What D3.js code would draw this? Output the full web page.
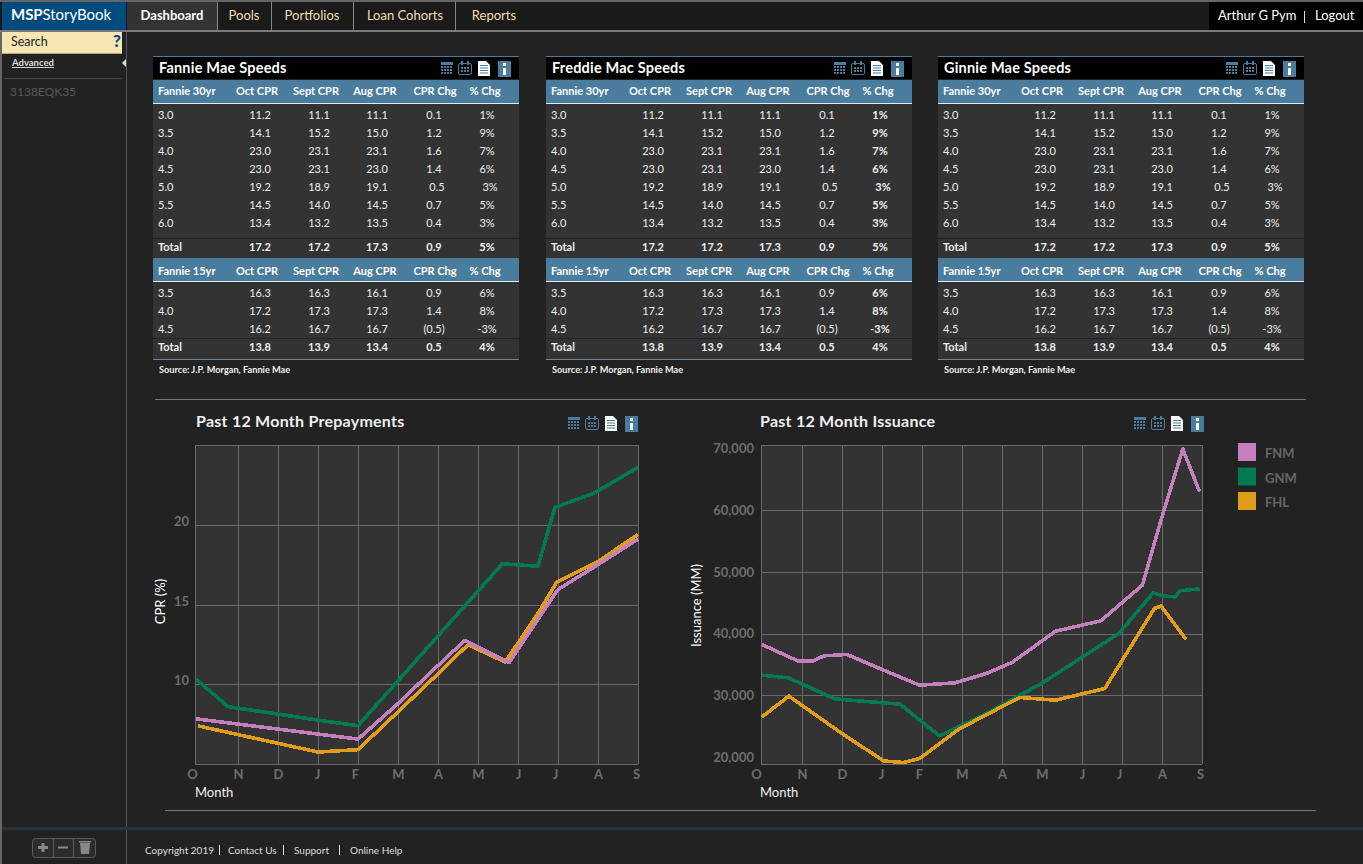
<!DOCTYPE html>
<html>
<head>
<meta charset="utf-8">
<title>MSPStoryBook</title>
<script src="https://cdnjs.cloudflare.com/ajax/libs/d3/7.8.5/d3.min.js"></script>
<style>
html, body { margin: 0; padding: 0; background: #222; overflow: hidden; }
svg { display: block; }
text { font-family: Lato, "Open Sans", sans-serif; }
</style>
</head>
<body>
<script>
// table data
var columns30 = ["Fannie 30yr", "Oct CPR", "Sept CPR", "Aug CPR", "CPR Chg", "% Chg"];
var columns15 = ["Fannie 15yr", "Oct CPR", "Sept CPR", "Aug CPR", "CPR Chg", "% Chg"];
var rows30 = [
  ["3.0", "11.2", "11.1", "11.1", "0.1", "1%"],
  ["3.5", "14.1", "15.2", "15.0", "1.2", "9%"],
  ["4.0", "23.0", "23.1", "23.1", "1.6", "7%"],
  ["4.5", "23.0", "23.1", "23.0", "1.4", "6%"],
  ["5.0", "19.2", "18.9", "19.1", "0.5", "3%"],
  ["5.5", "14.5", "14.0", "14.5", "0.7", "5%"],
  ["6.0", "13.4", "13.2", "13.5", "0.4", "3%"]
];
var total30 = ["Total", "17.2", "17.2", "17.3", "0.9", "5%"];
var rows15 = [
  ["3.5", "16.3", "16.3", "16.1", "0.9", "6%"],
  ["4.0", "17.2", "17.3", "17.3", "1.4", "8%"],
  ["4.5", "16.2", "16.7", "16.7", "(0.5)", "-3%"]
];
var total15 = ["Total", "13.8", "13.9", "13.4", "0.5", "4%"];
var panelTitles = ["Fannie Mae Speeds", "Freddie Mac Speeds", "Ginnie Mae Speeds"];
var sourceNote = "Source: J.P. Morgan, Fannie Mae";

// chart data, x is months since October
var monthLabels = ["O", "N", "D", "J", "F", "M", "A", "M", "J", "J", "A", "S"];
var cprTicks = [10, 15, 20];
var issuanceTicks = [20000, 30000, 40000, 50000, 60000, 70000];
var issuanceGrid = [30000, 40000, 50000, 60000];

var cprGnmX = [0.03, 0.77, 3, 4, 6.79, 7.61, 8.5, 8.92, 9.92, 11];
var cprGnmY = [10.3, 8.6, 7.75, 7.4, 15.25, 17.55, 17.4, 21.08, 22.0, 23.6];
var cprFhlX = [0.07, 3, 4, 5, 5.96, 6.75, 7.68, 8.54, 8.97, 9.45, 10, 11];
var cprFhlY = [7.39, 5.75, 5.9, 8.27, 10.56, 12.48, 11.39, 14.6, 16.4, 17.02, 17.69, 19.4];
var cprFnmX = [0.03, 4, 5, 5.96, 6.67, 7.78, 9, 10, 11];
var cprFnmY = [7.83, 6.56, 8.79, 11.08, 12.75, 11.37, 15.94, 17.5, 19.1];

var issFnmX = [0.02, 0.91, 1.26, 1.55, 2.12, 3.04, 3.94, 4.82, 5.61, 6.25, 7.34, 8.47, 9.51, 10, 10.52, 10.94];
var issFnmY = [38270, 35560, 35560, 36420, 36650, 34100, 31670, 32040, 33560, 35350, 40420, 42090, 47880, 58950, 69920, 63000];
var issGnmX = [0.02, 0.67, 1.82, 3.04, 3.45, 4.44, 5.61, 6.99, 8.92, 9.78, 10.03, 10.33, 10.45, 10.94];
var issGnmY = [33290, 32860, 29450, 28800, 28590, 23450, 27080, 31950, 40050, 46630, 46100, 45980, 46960, 47280];
var issFhlX = [0.02, 0.68, 2, 3.04, 3.53, 3.94, 4.92, 6.44, 7.34, 8.57, 9.81, 9.98, 10.6];
var issFhlY = [26530, 29890, 23840, 19400, 19140, 19790, 24540, 29680, 29240, 31130, 44100, 44480, 39080];

var legendNames = ["FNM", "GNM", "FHL"];
var pink = "#c47fbe", green = "#007a50", orange = "#e09c1a";
var blue = "#4a7c9e", gridGrey = "#6a6a6a";

var svg = d3.select("body").append("svg").attr("width", 1363).attr("height", 864);

function rect(parent, x, y, w, h, fill) {
  return parent.append("rect").attr("x", x).attr("y", y).attr("width", w).attr("height", h).attr("fill", fill);
}
function label(parent, x, y, str, size, fill, weight, anchor) {
  return parent.append("text").attr("x", x).attr("y", y).text(str)
    .attr("font-size", size).attr("fill", fill)
    .attr("font-weight", weight || 400)
    .attr("text-anchor", anchor || "start");
}

// four little toolbar icons, x is the left edge of the group
function icons(parent, x, y) {
  var g = parent.append("g").attr("transform", "translate(" + x + "," + y + ")");
  // table
  rect(g, 0, 1, 12, 3, blue);
  d3.range(3).forEach(function(r) {
    d3.range(4).forEach(function(c) {
      rect(g, c * 3, 5 + r * 3, 2, 2, blue);
    });
  });
  // calendar
  g.append("rect").attr("x", 17.5).attr("y", 2.5).attr("width", 13).attr("height", 11)
    .attr("rx", 1.5).attr("fill", "none").attr("stroke", blue);
  rect(g, 20, 0, 2, 4, blue);
  rect(g, 26, 0, 2, 4, blue);
  d3.range(2).forEach(function(r) {
    d3.range(3).forEach(function(c) {
      rect(g, 20 + c * 3, 6 + r * 3, 2, 2, blue);
    });
  });
  // page
  g.append("path").attr("d", "M37,0H45L49,4V15H37Z").attr("fill", "#fff");
  d3.range(4).forEach(function(r) {
    rect(g, 39, 4 + r * 2.5, 8, 1, blue);
  });
  // info
  rect(g, 57, 0, 13, 16, blue);
  rect(g, 62, 2, 3, 3, "#fff");
  rect(g, 62, 7, 3, 7, "#fff");
}

// page frame
rect(svg, 0, 0, 1363, 864, "#222");
rect(svg, 0, 2, 1363, 28, "#1a1a1a");
rect(svg, 0, 0, 1363, 2, "#666");
rect(svg, 0, 30, 1363, 2, "#7a7a7a");
rect(svg, 2, 2, 124, 28, "#004b7d");
rect(svg, 127, 2, 90, 28, "#333");
rect(svg, 1209, 2, 154, 28, "#000");
[217, 271, 353, 455].forEach(function(x) { rect(svg, x, 2, 1, 28, "#888"); });
var logo = label(svg, 11, 20, "", 15, "#fff");
logo.append("tspan").attr("font-weight", 700).text("MSP");
logo.append("tspan").text("StoryBook");
logo.attr("textLength", 100);
label(svg, 172, 20, "Dashboard", 13, "#fff", 700, "middle");
label(svg, 244, 20, "Pools", 13, "#f2dfae", 400, "middle");
label(svg, 312, 20, "Portfolios", 13, "#f2dfae", 400, "middle");
label(svg, 405, 20, "Loan Cohorts", 13, "#f2dfae", 400, "middle");
label(svg, 494, 20, "Reports", 13, "#f2dfae", 400, "middle");
label(svg, 1218, 20, "Arthur G Pym", 13, "#fff");
rect(svg, 1304, 11, 1, 12, "#ddd");
label(svg, 1315, 20, "Logout", 13, "#fff");

// sidebar
rect(svg, 0, 32, 2, 832, "#666");
rect(svg, 126, 32, 1, 832, "#555");
rect(svg, 2, 32, 120, 22, "#f5e6b3");
rect(svg, 2, 53, 120, 1, "#b5a77c");
label(svg, 11, 46, "Search", 12.5, "#222");
label(svg, 117, 47, "?", 17, "#004b7d", 900, "middle");
label(svg, 12, 66, "Advanced", 9.5, "#ddd", 700).attr("text-decoration", "underline");
svg.append("path").attr("d", "M126,59V67L122,63Z").attr("fill", "#ddd");
rect(svg, 4, 78, 118, 1, "#444");
label(svg, 10, 95.5, "3138EQK35", 12, "#5a5a5a");

// footer
rect(svg, 2, 827, 1361, 3, "#2a323a");
label(svg, 145, 854, "Copyright 2019", 10, "#ddd");
rect(svg, 219, 845, 1, 10, "#ddd");
label(svg, 228, 854, "Contact Us", 10, "#ddd");
rect(svg, 283, 845, 1, 10, "#ddd");
label(svg, 294, 854, "Support", 10, "#ddd");
rect(svg, 339, 845, 1, 10, "#ddd");
label(svg, 350, 854, "Online Help", 10, "#ddd");
svg.append("rect").attr("x", 32.5).attr("y", 838.5).attr("width", 63).attr("height", 19).attr("rx", 3)
  .attr("fill", "#2c2c2c").attr("stroke", "#5a5a5a");
rect(svg, 53, 839, 1, 18, "#5a5a5a");
rect(svg, 73, 839, 1, 18, "#5a5a5a");
rect(svg, 38, 846, 10, 3, "#888");
rect(svg, 41.5, 843, 3, 9, "#888");
rect(svg, 58, 846.5, 10, 2, "#888");
svg.append("path").attr("d", "M80,843H90L89,854H81Z").attr("fill", "#888");
rect(svg, 79, 841, 12, 1.5, "#888");

// separator lines
rect(svg, 155, 399, 1151, 1, "#777");
rect(svg, 165, 810, 1151, 1, "#777");

// speed tables
var colCenter = [0, 104, 163, 222, 282, 332];
var valueCenter = [0, 107, 166, 224, 281, 334];

function tableRow(g, y, row, opts) {
  row.forEach(function(d, i) {
    var bold = opts.bold || (opts.boldPct && i === 5);
    var nudge = opts.nudge && i >= 4 ? 3 : 0;
    if (i === 0) {
      label(g, 5, y, d, 11, "#eee", bold ? 700 : 400);
    } else {
      label(g, valueCenter[i] + nudge, y, d, 11, "#eee", bold ? 700 : 400, "middle");
    }
  });
}
function tableHeader(g, y, textY, cols) {
  rect(g, 0, y, 366, 23, blue);
  rect(g, 0, y + 23, 366, 1, "#dfe8ee");
  cols.forEach(function(d, i) {
    if (i === 0) {
      label(g, 5, textY, d, 11, "#fff", 700);
    } else {
      label(g, colCenter[i], textY, d, 11, "#fff", 700, "middle");
    }
  });
}

panelTitles.forEach(function(title, p) {
  var g = svg.append("g").attr("transform", "translate(" + [153, 546, 938][p] + ",56)");
  var boldPct = p === 1;
  rect(g, 0, 0, 366, 1, blue);
  rect(g, 0, 1, 366, 22, "#000");
  label(g, 6, 17, title, 14.5, "#fff", 700).attr("letter-spacing", 0.2);
  icons(g, 288, 5);
  rect(g, 0, 24, 366, 279, "#333");
  tableHeader(g, 24, 39, columns30);
  rows30.forEach(function(r, i) {
    tableRow(g, 63 + i * 18, r, { boldPct: boldPct, nudge: r[0] === "5.0" });
  });
  rect(g, 0, 182, 366, 1, "#222");
  tableRow(g, 195, total30, { bold: true });
  rect(g, 0, 202, 366, 1, "#222");
  tableHeader(g, 202, 219, columns15);
  rows15.forEach(function(r, i) {
    tableRow(g, 241 + i * 18, r, { boldPct: boldPct });
  });
  rect(g, 0, 282, 366, 1, "#222");
  tableRow(g, 295, total15, { bold: true });
  rect(g, 0, 303, 366, 1, "#6f8694");
  label(g, 6, 317, sourceNote, 9.2, "#eee", 700);
});

// line charts
var plotTop = 445, plotBottom = 764;

function xScaleFor(left, second) {
  // first month is a little wider than the rest
  return d3.scaleLinear().domain([0, 1, 11]).range([left, second, second + 400]);
}

function drawChart(opts) {
  var x = opts.x, y = opts.y;
  var g = svg.append("g");
  rect(g, x(0), plotTop, x(11) - x(0), plotBottom - plotTop, "#333");

  // grid
  g.selectAll(".vgrid").data(d3.range(0, 12)).enter().append("line")
    .attr("class", "vgrid")
    .attr("x1", function(d) { return Math.round(x(d)) + 0.5; })
    .attr("x2", function(d) { return Math.round(x(d)) + 0.5; })
    .attr("y1", plotTop).attr("y2", plotBottom)
    .attr("stroke", gridGrey);
  g.selectAll(".hgrid").data(opts.grid.concat(opts.y.domain())).enter().append("line")
    .attr("class", "hgrid")
    .attr("x1", x(0)).attr("x2", x(11))
    .attr("y1", function(d) { return Math.round(y(d)) + 0.5; })
    .attr("y2", function(d) { return Math.round(y(d)) + 0.5; })
    .attr("stroke", gridGrey);

  // axes, only the labels are kept
  var xAxis = d3.axisBottom(x).tickValues(d3.range(0, 12))
    .tickFormat(function(d) { return monthLabels[d]; }).tickSize(0).tickPadding(0);
  var xg = g.append("g").attr("transform", "translate(0," + (plotBottom + 6) + ")").call(xAxis);
  xg.select(".domain").remove();
  xg.selectAll("text").attr("fill", "#6e6e6e").attr("font-size", 13).attr("font-weight", 700)
    .attr("font-family", "Lato")
    .attr("dx", function(d) { return d === 0 ? opts.firstTickShift : ({ 3: -1, 4: -3, 9: -3, 11: -2 }[d] || 0); });

  var yAxis = d3.axisLeft(y).tickValues(opts.ticks).tickFormat(opts.format).tickSize(0).tickPadding(opts.tickPad);
  var yg = g.append("g").attr("transform", "translate(" + x(0) + ",0)").call(yAxis);
  yg.select(".domain").remove();
  yg.selectAll("text").attr("fill", "#6e6e6e").attr("font-size", 13).attr("font-weight", 700)
    .attr("font-family", "Lato").attr("dy", opts.tickDy);

  // lines
  var line = d3.line()
    .x(function(d) { return x(d[0]); })
    .y(function(d) { return y(d[1]); });
  opts.series.forEach(function(s) {
    g.append("path").datum(d3.zip(s.xs, s.ys))
      .attr("d", line).attr("fill", "none")
      .attr("stroke", s.color).attr("stroke-width", 3.6)
      .attr("shape-rendering", "crispEdges")
      .attr("stroke-linejoin", "round");
  });

  label(g, opts.titleX, 427, opts.title, 16, "#f0f0f0", 700).attr("letter-spacing", 0.25);
  icons(g, opts.iconX, 416);
  label(g, opts.monthX, 797, "Month", 13, "#f0f0f0");
  g.append("text").text(opts.yTitle)
    .attr("transform", "translate(" + opts.yTitleX + "," + opts.yTitleY + ") rotate(-90)")
    .attr("text-anchor", "middle").attr("font-size", 13).attr("fill", "#fff");
}

drawChart({
  title: "Past 12 Month Prepayments", titleX: 196, iconX: 568, monthX: 195,
  yTitle: "CPR (%)", yTitleX: 165, yTitleY: 601.5,
  x: xScaleFor(195, 238),
  y: d3.scaleLinear().domain([5, 25]).range([plotBottom, plotTop]),
  ticks: cprTicks, grid: cprTicks, tickPad: 6, tickDy: "0.05em", firstTickShift: -3,
  format: function(d) { return d; },
  series: [
    { xs: cprGnmX, ys: cprGnmY, color: green },
    { xs: cprFhlX, ys: cprFhlY, color: orange },
    { xs: cprFnmX, ys: cprFnmY, color: pink }
  ]
});

drawChart({
  title: "Past 12 Month Issuance", titleX: 760, iconX: 1134, monthX: 760,
  yTitle: "Issuance (MM)", yTitleX: 701, yTitleY: 605.5,
  x: xScaleFor(761, 802),
  y: d3.scaleLinear().domain([18900, 70580]).range([plotBottom, plotTop]),
  ticks: issuanceTicks, grid: issuanceGrid, tickPad: 7, tickDy: "0.32em", firstTickShift: -5,
  format: d3.format(","),
  series: [
    { xs: issFnmX, ys: issFnmY, color: pink },
    { xs: issGnmX, ys: issGnmY, color: green },
    { xs: issFhlX, ys: issFhlY, color: orange }
  ]
});

// legend
var legend = svg.selectAll(".legend").data(legendNames).enter().append("g")
  .attr("class", "legend")
  .attr("transform", function(d, i) { return "translate(1238," + (443 + i * 24.5) + ")"; });
legend.append("rect").attr("width", 18).attr("height", 18)
  .attr("fill", function(d, i) { return [pink, green, orange][i]; });
legend.append("text").attr("x", 27).attr("y", 15).text(function(d) { return d; })
  .attr("fill", "#666").attr("font-size", 13).attr("font-weight", 700);
</script>
</body>
</html>
